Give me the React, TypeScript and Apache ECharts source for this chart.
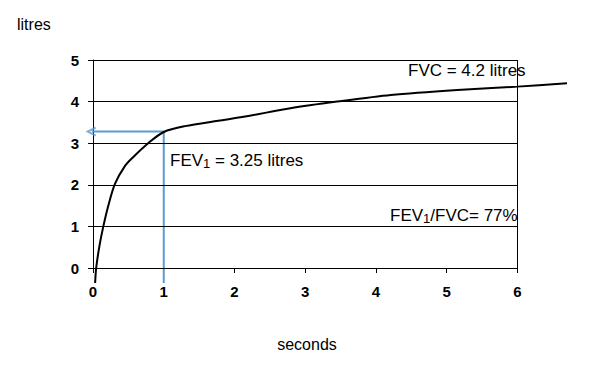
import React, { useEffect, useRef } from "react";
import * as echarts from "echarts";

const xTicks = [0, 1, 2, 3, 4, 5, 6];
const yTicks = [0, 1, 2, 3, 4, 5];
const xShownMax = 6.7;
const timeSeconds = [0.03, 0.045, 0.09, 0.146, 0.22, 0.31, 0.45, 0.57, 0.78, 1.0, 1.3, 1.77, 2.15, 2.79, 3.45, 4.21, 5.15, 6.0, 6.7];
const volumeLitres = [-0.36, 0.0, 0.52, 1.0, 1.52, 2.02, 2.45, 2.67, 3.0, 3.27, 3.41, 3.54, 3.64, 3.84, 4.0, 4.16, 4.28, 4.36, 4.44];
const fev1Time = 1;
const fev1Value = 3.28;
const guideBottom = -0.36;
const guideLeft = -0.075;

const FONT = "'Liberation Sans', Arial, sans-serif";
const BLUE = "#5b9bd5";

export default function App() {
  const ref = useRef<HTMLDivElement>(null);
  useEffect(() => {
    if (!ref.current) return;
    const chart = echarts.init(ref.current, undefined, { renderer: "svg" });
    const curve = timeSeconds.map((t, i) => [t, volumeLitres[i]]);
    const guide = [
      [fev1Time, guideBottom],
      [fev1Time, fev1Value],
      [guideLeft, fev1Value],
    ];
    const xEnd = xTicks[xTicks.length - 1];
    const yEnd = yTicks[yTicks.length - 1];
    const frameLines: any[] = yTicks.map((v) => [{ coord: [0, v] }, { coord: [xEnd, v] }]);
    frameLines.push([{ coord: [xEnd, 0] }, { coord: [xEnd, yEnd] }]);
    chart.setOption({
      animation: false,
      backgroundColor: "#fff",
      textStyle: { fontFamily: FONT },
      grid: { left: 93, right: 27, top: 60, bottom: 99, containLabel: false },
      xAxis: {
        type: "value",
        min: 0,
        max: xShownMax,
        axisLine: { show: false },
        axisTick: { show: true, length: 5, customValues: xTicks, lineStyle: { color: "#000" } },
        axisLabel: {
          margin: 16,
          customValues: xTicks,
          color: "#000",
          fontSize: 15,
          fontWeight: "bold",
          fontFamily: FONT,
        },
        splitLine: { show: false },
      },
      yAxis: {
        type: "value",
        min: yTicks[0],
        max: yEnd,
        interval: 1,
        axisLine: { show: true, lineStyle: { color: "#000", width: 1 } },
        axisTick: { show: true, length: 5, lineStyle: { color: "#000" } },
        axisLabel: { margin: 14, color: "#000", fontSize: 15, fontWeight: "bold", fontFamily: FONT },
        splitLine: { show: false },
      },
      series: [
        {
          type: "line",
          data: [],
          symbol: "none",
          markLine: {
            silent: true,
            symbol: ["none", "none"],
            label: { show: false },
            lineStyle: { color: "#000", width: 1, type: "solid" },
            emphasis: { disabled: true },
            data: frameLines,
          },
          z: 1,
        },
        {
          type: "line",
          data: guide,
          clip: false,
          symbol: "none",
          lineStyle: { color: BLUE, width: 2 },
          z: 2,
        },
        {
          type: "scatter",
          data: [[guideLeft, fev1Value]],
          clip: false,
          symbol: "path://M8,0 L0,4 L8,8",
          symbolSize: [8, 8],
          symbolOffset: [4, 0],
          itemStyle: { color: "none", borderColor: BLUE, borderWidth: 2 },
          z: 3,
        },
        {
          type: "line",
          data: curve,
          clip: false,
          smooth: 0.3,
          symbol: "none",
          lineStyle: { color: "#000", width: 2 },
          z: 4,
        },
      ],
      graphic: [
        {
          type: "text",
          x: 17,
          y: 24,
          style: { text: "litres", font: `16px ${FONT}`, fill: "#000", verticalAlign: "middle", align: "left" },
        },
        {
          type: "text",
          x: 307,
          y: 344,
          style: { text: "seconds", font: `16px ${FONT}`, fill: "#000", verticalAlign: "middle", align: "center" },
        },
        {
          type: "text",
          x: 408,
          y: 70,
          style: { text: "FVC = 4.2 litres", font: `17px ${FONT}`, fill: "#000", verticalAlign: "middle", align: "left" },
        },
        {
          type: "text",
          x: 170,
          y: 160,
          style: {
            text: "{a|FEV}{s|1}{a| = 3.25 litres}",
            fill: "#000",
            verticalAlign: "middle",
            align: "left",
            rich: {
              a: { fontSize: 17, fontFamily: FONT, lineHeight: 20, fill: "#000" },
              s: { fontSize: 13, fontFamily: FONT, verticalAlign: "bottom", fill: "#000" },
            },
          },
        },
        {
          type: "text",
          x: 390,
          y: 215,
          style: {
            text: "{a|FEV}{s|1}{a|/FVC= 77%}",
            fill: "#000",
            verticalAlign: "middle",
            align: "left",
            rich: {
              a: { fontSize: 17, fontFamily: FONT, lineHeight: 20, fill: "#000" },
              s: { fontSize: 13, fontFamily: FONT, verticalAlign: "bottom", fill: "#000" },
            },
          },
        },
      ],
    });
    return () => chart.dispose();
  }, []);
  return <div ref={ref} style={{ width: 594, height: 367, position: "fixed", left: 0, top: 0 }} />;
}
